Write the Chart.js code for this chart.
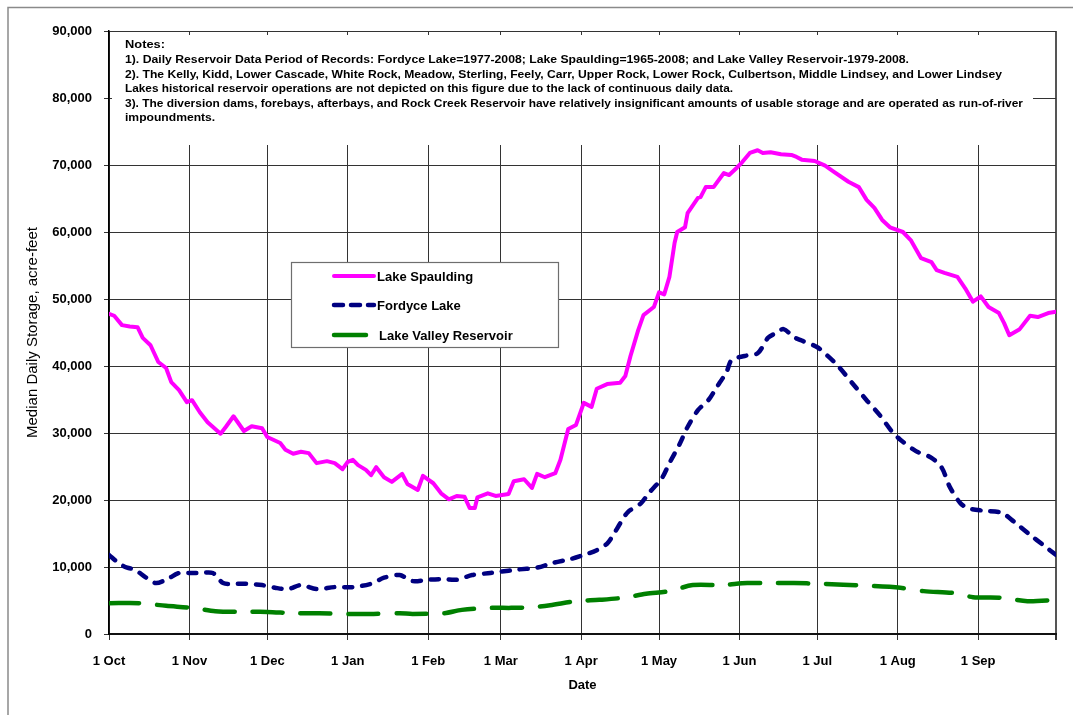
<!DOCTYPE html>
<html>
<head>
<meta charset="utf-8">
<script src="https://cdn.jsdelivr.net/npm/chart.js@4.4.0/dist/chart.umd.min.js"></script>
<style>
html,body{margin:0;padding:0;background:#fff;}
#wrap{width:1073px;height:715px;position:relative;}
</style>
</head>
<body>
<div id="wrap"><canvas id="c" width="1073" height="715"></canvas></div>
<script>
// ---- Axis ticks (day of water year, 1 Oct = 0) ----
const monthTickDays = [0, 31, 61, 92, 123, 151, 182, 212, 243, 273, 304, 335, 365];
const monthTickLabels = ['1 Oct', '1 Nov', '1 Dec', '1 Jan', '1 Feb', '1 Mar', '1 Apr', '1 May', '1 Jun', '1 Jul', '1 Aug', '1 Sep', ''];

// ---- Series (day of water year, median storage in acre-feet) ----
const spauldingDays = [0, 2, 5, 8, 11, 13, 16, 19, 22, 24, 27, 30, 32, 35, 38, 43, 45, 48, 52, 55, 59, 61, 66, 68, 71, 74, 77, 80, 84, 87, 90, 92, 94, 96, 99, 101, 103, 106, 109, 113, 115, 119, 121, 125, 128, 131, 134, 137, 139, 141, 142, 146, 149, 154, 156, 160, 163, 165, 168, 172, 174, 177, 180, 183, 186, 188, 192, 197, 199, 201, 204, 206, 210, 212, 214, 216, 218, 219, 222, 223, 227, 228, 230, 233, 237, 239, 242, 244, 247, 250, 252, 255, 259, 263, 265, 267, 272, 276, 279, 285, 289, 292, 295, 298, 301, 306, 309, 313, 317, 319, 322, 327, 330, 333, 336, 339, 343, 345, 347, 351, 355, 358, 362, 365];
const spauldingStorage = [47800, 47500, 46100, 45900, 45800, 44200, 43100, 40600, 39700, 37600, 36400, 34600, 34900, 33100, 31600, 29900, 30900, 32500, 30300, 31000, 30700, 29400, 28500, 27500, 26900, 27200, 27000, 25500, 25800, 25500, 24600, 25700, 26000, 25200, 24500, 23700, 24900, 23400, 22700, 23900, 22400, 21500, 23600, 22500, 21000, 20100, 20600, 20500, 18800, 18800, 20400, 21000, 20600, 20900, 22800, 23100, 21800, 23900, 23400, 24000, 26000, 30600, 31200, 34500, 33900, 36600, 37300, 37500, 38500, 41500, 45400, 47600, 48800, 51000, 50700, 53300, 58400, 60000, 60700, 62800, 65100, 65200, 66700, 66700, 68800, 68500, 69600, 70400, 71800, 72200, 71800, 71900, 71600, 71500, 71200, 70800, 70600, 69900, 69100, 67500, 66700, 64800, 63600, 61800, 60700, 60000, 58800, 56100, 55500, 54300, 53900, 53300, 51600, 49600, 50400, 48800, 47900, 46400, 44600, 45500, 47500, 47300, 47900, 48100];

const fordyceDays = [0, 4, 7, 10, 14, 18, 22, 27, 31, 35, 40, 44, 48, 53, 59, 64, 69, 74, 80, 87, 94, 101, 106, 112, 117, 123, 129, 134, 140, 147, 151, 157, 165, 171, 178, 183, 188, 192, 195, 197, 200, 205, 208, 213, 216, 220, 223, 227, 231, 234, 238, 240, 245, 250, 254, 257, 260, 264, 267, 273, 277, 281, 287, 292, 297, 302, 305, 311, 317, 321, 324, 328, 331, 337, 344, 349, 355, 360, 365];
const fordyceStorage = [11800, 10500, 9900, 9600, 8500, 7600, 8100, 9100, 9100, 9100, 9100, 7600, 7500, 7500, 7300, 6900, 6700, 7300, 6700, 7000, 7000, 7500, 8400, 8800, 7900, 8100, 8200, 8100, 8800, 9100, 9300, 9600, 9900, 10600, 11200, 11800, 12500, 13500, 15200, 16500, 18200, 19500, 21000, 23200, 25500, 28400, 30900, 33400, 34900, 36700, 39100, 40900, 41500, 41900, 44200, 44900, 45500, 44300, 43800, 42800, 41500, 40000, 37200, 34900, 32700, 30100, 29000, 27300, 26300, 24800, 22000, 19600, 18800, 18400, 18100, 16700, 14800, 13300, 11800];

const lakeValleyDays = [0, 12, 22, 32, 41, 50, 61, 71, 81, 92, 102, 112, 117, 129, 136, 147, 155, 163, 170, 180, 189, 198, 207, 216, 225, 236, 246, 255, 264, 274, 292, 305, 314, 326, 333, 344, 354, 365];
const lakeValleyStorage = [4600, 4600, 4200, 3900, 3400, 3300, 3300, 3100, 3100, 3000, 3000, 3100, 3000, 3100, 3600, 3900, 3900, 4000, 4300, 4900, 5100, 5400, 6000, 6400, 7300, 7300, 7600, 7600, 7600, 7500, 7200, 6900, 6400, 6100, 5500, 5400, 4900, 5100];

const seriesNames = ['Lake Spaulding', 'Fordyce Lake', 'Lake Valley Reservoir'];

const noteLines = [
  'Notes:',
  '1). Daily Reservoir Data Period of Records: Fordyce Lake=1977-2008; Lake Spaulding=1965-2008; and Lake Valley Reservoir-1979-2008.',
  '2). The Kelly, Kidd, Lower Cascade, White Rock, Meadow, Sterling, Feely, Carr, Upper Rock, Lower Rock, Culbertson, Middle Lindsey, and Lower Lindsey',
  'Lakes historical reservoir operations are not depicted on this figure due to the lack of continuous daily data.',
  '3). The diversion dams, forebays, afterbays, and Rock Creek Reservoir have relatively insignificant amounts of usable storage and are operated as run-of-river',
  'impoundments.'
];

const FONT = '"Liberation Sans", Arial, Helvetica, sans-serif';

function pairs(xs, ys) { return xs.map((x, i) => ({ x: x, y: ys[i] })); }

const frameAndNotesPlugin = {
  id: 'frameAndNotes',
  afterDraw(chart) {
    const ctx = chart.ctx;
    ctx.save();
    // outer frame (left and top)
    ctx.strokeStyle = '#8a8a8a';
    ctx.lineWidth = 1.5;
    ctx.beginPath();
    ctx.moveTo(8, 715); ctx.lineTo(8, 7.5); ctx.lineTo(1073, 7.5);
    ctx.stroke();

    // notes box
    ctx.fillStyle = '#ffffff';
    ctx.fillRect(112, 35, 921, 110);
    ctx.fillStyle = '#000';
    ctx.font = 'bold 11.5px ' + FONT;
    ctx.textBaseline = 'middle';
    ctx.textAlign = 'left';
    const ys = [45, 60, 75, 89, 104, 118];
    const rightEdges = [165, 909, 1002, 733, 1023, 0];
    const sDefault = (rightEdges[2] - 125) / ctx.measureText(noteLines[2]).width;
    noteLines.forEach((t, i) => {
      const w = ctx.measureText(t).width;
      const s = rightEdges[i] > 0 ? (rightEdges[i] - 125) / w : sDefault;
      ctx.save();
      ctx.translate(125, ys[i]);
      ctx.scale(s, 1);
      ctx.fillText(t, 0, 0);
      ctx.restore();
    });

    // legend
    ctx.fillStyle = '#ffffff';
    ctx.fillRect(291, 262, 268, 86);
    ctx.strokeStyle = '#6e6e6e';
    ctx.lineWidth = 1.2;
    ctx.setLineDash([]);
    ctx.strokeRect(291.5, 262.5, 267, 85);
    const rowY = [276, 305, 335];
    chart.data.datasets.forEach((ds, i) => {
      ctx.save();
      ctx.strokeStyle = ds.borderColor;
      ctx.lineWidth = ds.borderWidth;
      ctx.lineCap = 'round';
      ctx.setLineDash(i === 1 ? [9, 8] : []);
      ctx.beginPath();
      ctx.moveTo(334, rowY[i]);
      ctx.lineTo(i === 2 ? 366 : 374, rowY[i]);
      ctx.stroke();
      ctx.restore();
      ctx.fillStyle = '#000';
      ctx.font = 'bold 13px ' + FONT;
      ctx.textBaseline = 'middle';
      ctx.fillText(ds.label, i === 2 ? 379 : 377, rowY[i] + 1);
    });
    ctx.restore();
  }
};

new Chart(document.getElementById('c'), {
  type: 'line',
  data: {
    datasets: [
      {
        label: seriesNames[0],
        data: pairs(spauldingDays, spauldingStorage),
        borderColor: '#ff00ff',
        borderWidth: 4,
        pointRadius: 0,
        tension: 0,
        borderJoinStyle: 'round',
        borderCapStyle: 'round'
      },
      {
        label: seriesNames[1],
        data: pairs(fordyceDays, fordyceStorage),
        borderColor: '#000080',
        borderWidth: 4.5,
        borderDash: [8, 10],
        borderCapStyle: 'round',
        pointRadius: 0,
        tension: 0.3
      },
      {
        label: seriesNames[2],
        data: pairs(lakeValleyDays, lakeValleyStorage),
        borderColor: '#008000',
        borderWidth: 4.5,
        borderDash: [30, 18],
        borderCapStyle: 'round',
        pointRadius: 0,
        tension: 0.3
      }
    ]
  },
  options: {
    responsive: false,
    animation: false,
    devicePixelRatio: 1,
    layout: { padding: { left: 24, right: 17, top: 31, bottom: 11 } },
    plugins: { legend: { display: false }, tooltip: { enabled: false }, title: { display: false } },
    scales: {
      x: {
        type: 'linear',
        min: 0,
        max: 365,
        afterBuildTicks: (scale) => { scale.ticks = monthTickDays.map(v => ({ value: v })); },
        afterFit: (scale) => { scale.height = 70; },
        ticks: {
          autoSkip: false,
          maxRotation: 0,
          padding: 14,
          color: '#000',
          font: { family: FONT, size: 13, weight: 'bold' },
          callback: (v, i) => monthTickLabels[i]
        },
        grid: {
          color: (c) => (c.tick && c.tick.value === 365) ? '#555' : '#333',
          lineWidth: (c) => (c.tick && c.tick.value === 365) ? 2 : 1,
          tickLength: 6,
          tickColor: '#333'
        },
        border: { color: '#111', width: 2 },
        title: {
          display: true,
          text: 'Date',
          color: '#000',
          font: { family: FONT, size: 13, weight: 'bold' },
          padding: { top: 0, bottom: 11 }
        }
      },
      y: {
        min: 0,
        max: 90000,
        afterFit: (scale) => { scale.width = 85; },
        ticks: {
          stepSize: 10000,
          padding: 12,
          color: '#000',
          font: { family: FONT, size: 13, weight: 'bold' },
          callback: (v) => Number(v).toLocaleString('en-US')
        },
        grid: { color: '#333', lineWidth: 1, tickLength: 5, tickColor: '#333' },
        border: { color: '#000', width: 1.5 },
        title: {
          display: true,
          text: 'Median Daily Storage, acre-feet',
          color: '#000',
          font: { family: FONT, size: 15 },
          padding: { top: 0, bottom: 0 }
        }
      }
    }
  },
  plugins: [frameAndNotesPlugin]
});
</script>
</body>
</html>
